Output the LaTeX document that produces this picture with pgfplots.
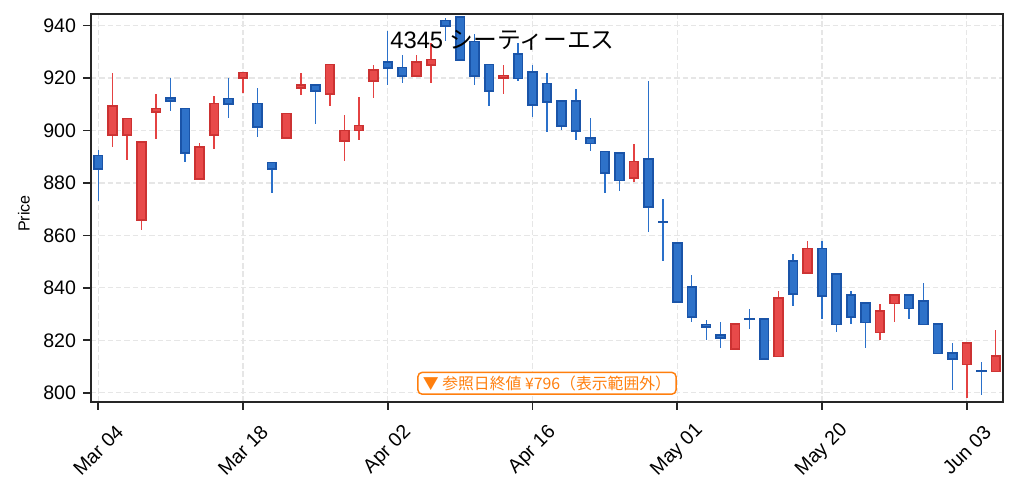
\documentclass[border=0pt]{standalone}
\usepackage{fontspec}
\setmainfont{Liberation Sans}
\newfontfamily\cjk{Noto Sans CJK JP}
\usepackage{pgfplots}
\usepackage{pgfplotstable}
\usepgfplotslibrary{statistics}
\pgfplotsset{compat=1.18}

\definecolor{axisc}{RGB}{38,38,38}
\definecolor{gridc}{RGB}{230,230,230}
\definecolor{blueFill}{RGB}{46,114,201}
\definecolor{blueEdge}{RGB}{26,84,168}
\definecolor{blueWick}{RGB}{42,112,202}
\definecolor{redFill}{RGB}{232,74,74}
\definecolor{redEdge}{RGB}{204,50,50}
\definecolor{redWick}{RGB}{228,66,66}
\definecolor{orangec}{RGB}{255,127,14}

\pgfplotstableread{
x open high low close
0 890.5 892.7 873.0 885.3
1 898.4 922.0 893.7 909.2
2 898.4 904.6 888.6 904.6
3 866.0 895.5 862.0 895.5
4 907.1 914.0 896.6 908.4
5 912.3 920.0 907.3 911.3
6 908.4 908.4 887.8 891.4
7 881.5 895.2 881.5 893.7
8 898.4 913.1 892.8 910.3
9 912.2 920.0 904.6 910.2
10 920.0 922.1 914.2 922.1
11 910.3 916.3 897.4 901.3
12 887.8 887.8 876.0 885.3
13 897.1 906.5 896.6 906.5
14 916.1 922.0 913.4 917.2
15 917.2 917.2 902.3 915.1
16 914.0 925.2 909.2 925.2
17 896.1 905.9 888.2 900.0
18 900.0 912.7 896.2 901.9
19 918.9 924.9 912.2 923.2
20 926.0 938.0 917.2 923.9
21 924.0 928.8 918.0 920.8
22 920.8 928.8 920.8 926.0
23 925.0 933.3 918.0 927.1
24 941.9 942.8 934.0 939.9
25 943.2 943.2 926.9 926.9
26 933.9 936.8 917.2 920.8
27 925.2 925.2 909.2 915.1
28 920.0 925.0 914.1 921.0
29 929.1 933.3 919.0 919.8
30 922.2 925.0 905.0 909.7
31 917.9 922.0 899.3 910.8
32 911.2 911.2 900.0 901.8
33 911.2 915.9 896.2 899.8
34 897.0 904.8 892.0 895.0
35 892.0 892.0 876.0 883.8
36 891.3 891.3 877.0 880.9
37 881.9 895.0 880.2 888.2
38 889.0 918.9 861.2 870.8
39 865.3 874.0 850.2 865.0
40 857.0 857.0 834.7 834.7
41 840.2 844.9 826.9 829.0
42 826.0 827.9 820.0 825.0
43 821.9 826.8 817.0 821.0
44 816.7 826.1 816.3 826.1
45 828.2 832.1 824.2 828.0
46 828.1 828.1 813.0 813.0
47 813.8 838.9 813.8 836.0
48 850.1 853.0 833.0 837.7
49 845.8 858.0 845.8 855.0
50 855.0 858.0 828.0 836.9
51 845.2 845.2 823.1 826.0
52 837.2 838.9 826.1 829.0
53 834.1 834.1 817.0 826.8
54 823.0 833.9 820.0 831.1
55 834.0 837.7 826.9 837.2
56 837.2 837.7 828.0 832.1
57 834.9 842.0 826.0 826.0
58 826.1 826.1 815.0 815.0
59 815.1 818.8 801.0 813.0
60 810.8 818.9 797.9 818.9
61 808.4 811.8 799.1 808.2
62 808.1 824.1 808.1 814.1
}\ohlc

\pgfplotsset{
  candleup/.style={
    draw=redEdge, fill=redFill, line width=0.85pt,
    boxplot/every whisker/.style={draw=redWick, fill=none, line width=0.7pt},
    boxplot/every median/.style={draw=none}},
  candledn/.style={
    draw=blueEdge, fill=blueFill, line width=0.85pt,
    boxplot/every whisker/.style={draw=blueWick, fill=none, line width=0.7pt},
    boxplot/every median/.style={draw=none}},
}

\begin{document}
\begin{tikzpicture}
\useasboundingbox (-43.68pt,-42.72pt) rectangle (444.48pt,192.92pt);
\begin{axis}[
  at={(0,0)}, anchor=south west,
  scale only axis, width=437.76pt, height=186.3pt,
  xmin=-0.5, xmax=62.5, ymin=796.5, ymax=944.5,
  boxplot/draw direction=y,
  xtick={0,10,...,60},
  xticklabels={Mar 04,Mar 18,Apr 02,Apr 16,May 01,May 20,Jun 03},
  ytick={800,820,...,940},
  tick align=outside, xtick pos=bottom, ytick pos=left,
  major tick length=3.7pt,
  tick style={line width=0.8pt, color=axisc},
  axis line style={line width=0.8pt, draw=axisc},
  grid=major,
  major grid style={draw=gridc, line width=0.6pt, dash pattern=on 2.6pt off 1.4pt},
  ticklabel style={font=\fontsize{9.4}{11}\selectfont, text=black},
  /pgf/number format/assume math mode=true,
  xticklabel style={anchor=center, yshift=-19.5pt, rotate=45},
  ylabel={Price},
  every axis y label/.style={at={(axis description cs:0,0.485)},
    anchor=center, xshift=-32.2pt, rotate=90, font=\fontsize{7.7}{9}\selectfont},
]
\pgfplotsinvokeforeach{0,...,62}{%
  \pgfplotstablegetelem{#1}{open}\of\ohlc \let\co=\pgfplotsretval
  \pgfplotstablegetelem{#1}{close}\of\ohlc \let\cc=\pgfplotsretval
  \pgfplotstablegetelem{#1}{high}\of\ohlc \let\ch=\pgfplotsretval
  \pgfplotstablegetelem{#1}{low}\of\ohlc \let\cl=\pgfplotsretval
  \ifdim\cc pt<\co pt
    \edef\mycandlenext{\noexpand\addplot[candledn, boxplot prepared={draw position=#1,
      lower whisker=\cl, lower quartile=\cc, median=\cc, upper quartile=\co,
      upper whisker=\ch, box extend=0.6, whisker extend=0}]}%
  \else
    \edef\mycandlenext{\noexpand\addplot[candleup, boxplot prepared={draw position=#1,
      lower whisker=\cl, lower quartile=\co, median=\co, upper quartile=\cc,
      upper whisker=\ch, box extend=0.6, whisker extend=0}]}%
  \fi
  \mycandlenext coordinates {};
}
\node[anchor=base west, inner sep=0pt, font=\fontsize{11.4}{13}\selectfont, text=black]
  at (axis cs:20.15,931.4) {4345 {\cjk シーティーエス}};
\node[draw=orangec, fill=white, text=orangec, rounded corners=2pt, line width=0.7pt,
  inner xsep=2.4pt, inner ysep=1.6pt, font=\cjk\fontsize{7.6}{9}\selectfont]
  at (rel axis cs:0.5,0.048) {▼ 参照日終値 ¥796（表示範囲外）};
\end{axis}
\end{tikzpicture}
\end{document}
